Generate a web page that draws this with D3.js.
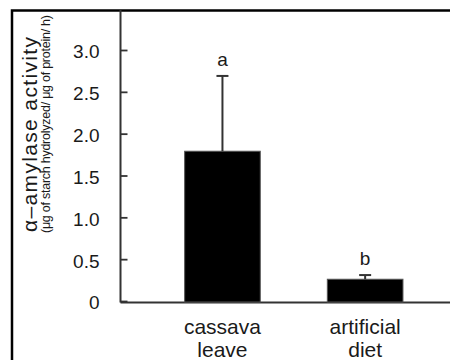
<!DOCTYPE html>
<html><head><meta charset="utf-8">
<script src="https://cdn.jsdelivr.net/npm/d3@7"></script>
<style>body{margin:0;background:#fff}svg{display:block}</style>
</head><body>
<script>
const categories = [["cassava","leave"],["artificial","diet"]];
const catKeys = ["cassava leave","artificial diet"];
const means = [1.79, 0.26];
const errors = [0.90, 0.05];
const letters = ["a","b"];
const yTicks = [0, 0.5, 1.0, 1.5, 2.0, 2.5, 3.0];
const yTickLabels = ["0","0.5","1.0","1.5","2.0","2.5","3.0"];

const W = 450, H = 360;
const svg = d3.select("body").append("svg").attr("width", W).attr("height", H);
const font = "'Liberation Sans', Arial, sans-serif";

// outer frame (extends beyond right/bottom)
svg.append("rect").attr("x", 12).attr("y", 10.5).attr("width", 500).attr("height", 400)
  .attr("fill", "none").attr("stroke", "#000").attr("stroke-width", 2.5);

const x0 = 120.5, yTop = 10;
const y = d3.scaleLinear().domain([0, 3.0]).range([301, 50]);
const x = d3.scaleBand().domain(catKeys).range([129, 458.6]).paddingInner(0.47).paddingOuter(0.39);

// y axis
const yAxis = d3.axisLeft(y).tickValues(yTicks).tickSize(-7).tickPadding(0).tickFormat((d,i)=>yTickLabels[i]);
const gy = svg.append("g").attr("transform", `translate(${x0},0)`).call(yAxis);
gy.select(".domain").remove();
gy.selectAll(".tick line").attr("stroke", "#333").attr("stroke-width", 1.8);
gy.selectAll(".tick text").attr("x", -21).attr("dy", "0.42em")
  .attr("font-family", font).attr("font-size", 19).attr("fill", "#1a1a1a").attr("text-anchor","end");
svg.append("line").attr("x1", x0).attr("x2", x0).attr("y1", yTop).attr("y2", y(0)+1.5)
  .attr("stroke", "#333").attr("stroke-width", 2);
// x axis baseline
svg.append("line").attr("x1", x0).attr("x2", W+5).attr("y1", y(0)+1.5).attr("y2", y(0)+1.5)
  .attr("stroke", "#333").attr("stroke-width", 2);

// bars
svg.selectAll("rect.bar").data(means).enter().append("rect").attr("class","bar")
  .attr("x", (d,i)=>x(catKeys[i])).attr("width", x.bandwidth())
  .attr("y", d=>y(d)).attr("height", d=>y(0)-y(d)+1)
  .attr("fill", "#000").attr("stroke", "#555").attr("stroke-width", 1);

// error bars
const cx = i => x(catKeys[i]) + x.bandwidth()/2;
means.forEach((m,i)=>{
  const top = y(m+errors[i]);
  svg.append("line").attr("x1", cx(i)).attr("x2", cx(i)).attr("y1", y(m)).attr("y2", top)
    .attr("stroke", "#333").attr("stroke-width", 2);
  svg.append("line").attr("x1", cx(i)-6).attr("x2", cx(i)+6).attr("y1", top).attr("y2", top)
    .attr("stroke", "#333").attr("stroke-width", 2);
  svg.append("text").attr("x", cx(i)).attr("y", top - 10).attr("text-anchor","middle")
    .attr("font-family", font).attr("font-size", 19).attr("fill","#1a1a1a").text(letters[i]);
});

// category labels
categories.forEach((lines,i)=>{
  lines.forEach((t,j)=>{
    svg.append("text").attr("x", cx(i)).attr("y", 334 + j*22.7).attr("text-anchor","middle")
      .attr("font-family", font).attr("font-size", 21).attr("fill","#1a1a1a").text(t);
  });
});

// y titles
svg.append("text").attr("transform", "translate(36.5,232) rotate(-90)")
  .attr("font-family", font).attr("font-size", 21).attr("fill","#1a1a1a")
  .attr("textLength", 195).attr("lengthAdjust", "spacing").text("α–amylase activity");
svg.append("text").attr("transform", "translate(50,233) rotate(-90)")
  .attr("font-family", font).attr("font-size", 12.5).attr("fill","#1a1a1a")
  .attr("textLength", 218).attr("lengthAdjust", "spacing").text("(μg of starch hydrolyzed/ μg of protein/ h)");
</script>
</body></html>
